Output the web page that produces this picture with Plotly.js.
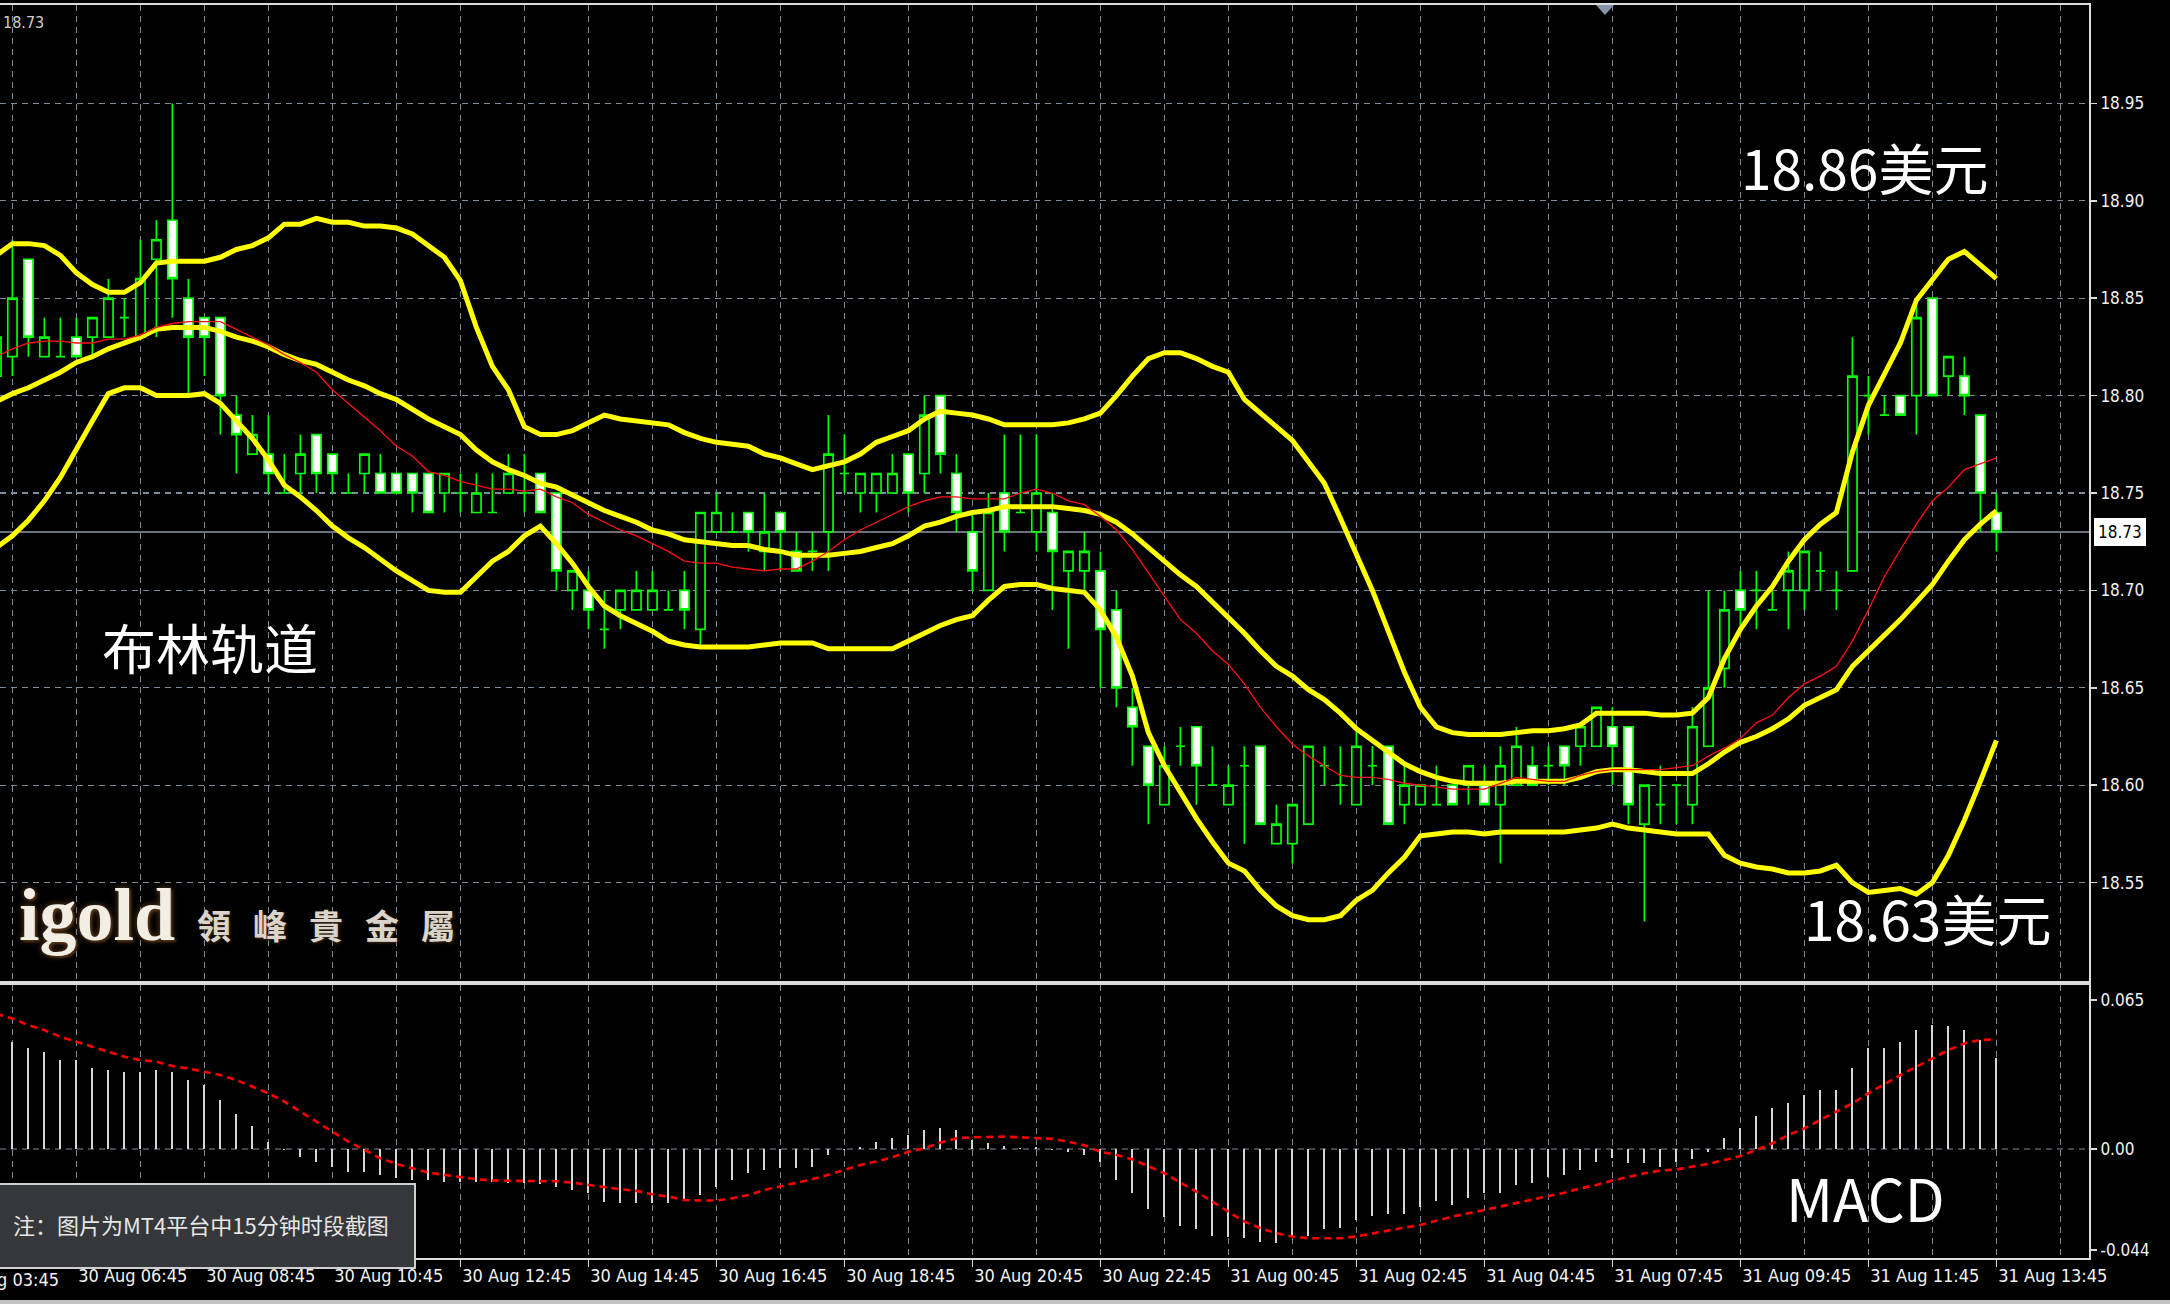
<!DOCTYPE html>
<html>
<head>
<meta charset="utf-8">
<script src="https://cdn.plot.ly/plotly-3.0.1.min.js"></script>
<style>
html,body{margin:0;padding:0;background:#000;}
#chart{width:2170px;height:1304px;}
</style>
</head>
<body>
<div id="chart"></div>
<script>
// ---------- DATA (bars -1 .. 124, 15-minute candles) ----------
const openP = [18.81,
18.82,18.87,18.82,18.82,18.83,18.83,18.83,18.84,18.83,18.87,
18.89,18.85,18.84,18.84,18.79,18.77,18.77,18.75,18.76,18.78,
18.77,18.75,18.76,18.76,18.76,18.76,18.76,18.75,18.75,18.74,
18.74,18.75,18.75,18.76,18.75,18.70,18.70,18.68,18.69,18.69,
18.69,18.69,18.70,18.68,18.73,18.73,18.74,18.72,18.74,18.72,
18.72,18.73,18.76,18.75,18.75,18.75,18.77,18.76,18.80,18.76,
18.73,18.70,18.75,18.74,18.73,18.74,18.71,18.71,18.71,18.69,
18.64,18.62,18.59,18.62,18.63,18.60,18.59,18.61,18.62,18.57,
18.57,18.58,18.61,18.60,18.59,18.61,18.62,18.59,18.59,18.59,
18.60,18.60,18.60,18.59,18.60,18.61,18.61,18.62,18.62,18.62,
18.63,18.63,18.58,18.59,18.60,18.59,18.62,18.66,18.70,18.70,
18.69,18.70,18.70,18.71,18.70,18.71,18.80,18.79,18.80,18.80,
18.85,18.81,18.81,18.79,18.74];

const highP = [18.83,
18.88,18.87,18.84,18.84,18.84,18.84,18.86,18.85,18.88,18.89,
18.95,18.86,18.84,18.84,18.80,18.79,18.79,18.77,18.78,18.78,
18.77,18.76,18.77,18.77,18.76,18.76,18.76,18.76,18.76,18.76,
18.76,18.77,18.77,18.76,18.75,18.71,18.71,18.70,18.70,18.71,
18.71,18.70,18.71,18.74,18.75,18.74,18.74,18.75,18.74,18.73,
18.73,18.79,18.78,18.76,18.76,18.77,18.77,18.80,18.80,18.77,
18.74,18.75,18.78,18.78,18.78,18.75,18.72,18.73,18.72,18.70,
18.65,18.62,18.62,18.63,18.63,18.62,18.61,18.62,18.62,18.59,
18.59,18.62,18.62,18.62,18.63,18.62,18.62,18.61,18.60,18.61,
18.60,18.61,18.61,18.62,18.63,18.62,18.62,18.62,18.63,18.64,
18.64,18.63,18.60,18.61,18.60,18.64,18.70,18.70,18.71,18.71,
18.70,18.72,18.72,18.72,18.71,18.83,18.81,18.80,18.80,18.85,
18.85,18.82,18.82,18.79,18.75];

const lowP = [18.81,
18.81,18.82,18.82,18.82,18.82,18.82,18.83,18.83,18.83,18.83,
18.84,18.80,18.81,18.78,18.76,18.77,18.75,18.75,18.75,18.75,
18.75,18.75,18.75,18.75,18.75,18.74,18.74,18.74,18.74,18.74,
18.74,18.75,18.74,18.74,18.70,18.69,18.68,18.67,18.68,18.69,
18.69,18.69,18.68,18.67,18.73,18.73,18.72,18.71,18.71,18.71,
18.71,18.71,18.75,18.74,18.74,18.75,18.74,18.75,18.76,18.73,
18.70,18.70,18.72,18.74,18.72,18.69,18.67,18.70,18.65,18.64,
18.61,18.58,18.59,18.61,18.59,18.60,18.59,18.57,18.58,18.57,
18.56,18.58,18.60,18.59,18.59,18.60,18.58,18.58,18.59,18.59,
18.59,18.59,18.59,18.56,18.60,18.60,18.60,18.60,18.61,18.62,
18.60,18.58,18.53,18.58,18.58,18.58,18.62,18.65,18.68,18.68,
18.69,18.68,18.69,18.70,18.69,18.71,18.78,18.79,18.79,18.78,
18.80,18.80,18.79,18.73,18.72];

const closeP = [18.83,
18.85,18.83,18.83,18.82,18.82,18.84,18.85,18.84,18.86,18.88,
18.86,18.83,18.83,18.80,18.78,18.78,18.76,18.75,18.77,18.76,
18.76,18.75,18.77,18.75,18.75,18.75,18.74,18.76,18.75,18.75,
18.74,18.76,18.75,18.74,18.71,18.71,18.69,18.68,18.70,18.70,
18.70,18.69,18.69,18.74,18.74,18.73,18.73,18.73,18.73,18.71,
18.72,18.77,18.76,18.76,18.76,18.76,18.75,18.79,18.77,18.74,
18.71,18.74,18.73,18.74,18.75,18.72,18.72,18.72,18.68,18.65,
18.63,18.60,18.61,18.62,18.61,18.60,18.60,18.61,18.58,18.58,
18.59,18.62,18.61,18.60,18.62,18.61,18.58,18.60,18.60,18.59,
18.59,18.61,18.59,18.61,18.62,18.60,18.61,18.61,18.63,18.64,
18.62,18.59,18.60,18.59,18.60,18.63,18.65,18.69,18.69,18.70,
18.69,18.71,18.72,18.71,18.70,18.81,18.80,18.79,18.79,18.84,
18.80,18.82,18.80,18.75,18.73];

const bbUpper = [18.872,
18.878,18.878,18.877,18.872,18.863,18.857,18.853,18.853,18.858,18.868,
18.869,18.869,18.869,18.871,18.875,18.877,18.881,18.888,18.888,18.891,
18.889,18.889,18.887,18.887,18.886,18.883,18.877,18.871,18.859,18.835,
18.815,18.803,18.784,18.780,18.780,18.782,18.786,18.790,18.788,18.787,
18.786,18.785,18.781,18.778,18.776,18.775,18.774,18.770,18.768,18.765,
18.762,18.764,18.766,18.770,18.776,18.779,18.782,18.788,18.792,18.791,
18.790,18.788,18.785,18.785,18.785,18.785,18.786,18.788,18.791,18.800,
18.810,18.819,18.822,18.822,18.819,18.815,18.812,18.798,18.791,18.784,
18.777,18.766,18.755,18.737,18.718,18.700,18.679,18.658,18.640,18.630,
18.627,18.626,18.626,18.626,18.627,18.628,18.628,18.629,18.631,18.637,
18.637,18.637,18.637,18.636,18.636,18.637,18.645,18.665,18.680,18.692,
18.702,18.715,18.726,18.734,18.740,18.771,18.795,18.811,18.827,18.849,
18.860,18.870,18.874,18.867,18.860];

const bbMiddle = [18.797,
18.801,18.804,18.808,18.812,18.817,18.820,18.824,18.827,18.830,18.834,
18.835,18.835,18.835,18.833,18.830,18.828,18.825,18.821,18.818,18.816,
18.812,18.808,18.805,18.801,18.798,18.793,18.788,18.784,18.780,18.772,
18.766,18.762,18.759,18.755,18.753,18.749,18.745,18.741,18.738,18.735,
18.731,18.729,18.726,18.725,18.724,18.723,18.723,18.721,18.720,18.718,
18.718,18.718,18.719,18.720,18.722,18.724,18.728,18.733,18.735,18.738,
18.740,18.741,18.743,18.743,18.743,18.743,18.742,18.741,18.739,18.735,
18.729,18.722,18.715,18.708,18.702,18.694,18.686,18.678,18.669,18.661,
18.656,18.649,18.644,18.637,18.629,18.623,18.617,18.611,18.607,18.604,
18.602,18.601,18.601,18.601,18.602,18.602,18.602,18.602,18.604,18.607,
18.608,18.608,18.607,18.606,18.606,18.606,18.611,18.617,18.622,18.625,
18.629,18.634,18.641,18.645,18.649,18.661,18.669,18.677,18.685,18.694,
18.703,18.715,18.726,18.734,18.741];

const bbLower = [18.722,
18.728,18.736,18.746,18.758,18.773,18.787,18.801,18.804,18.804,18.800,
18.800,18.800,18.801,18.796,18.787,18.778,18.767,18.754,18.748,18.741,
18.733,18.727,18.722,18.716,18.710,18.705,18.700,18.699,18.699,18.707,
18.715,18.720,18.728,18.733,18.724,18.714,18.702,18.692,18.687,18.683,
18.679,18.674,18.672,18.671,18.671,18.671,18.671,18.672,18.673,18.673,
18.673,18.670,18.670,18.670,18.670,18.670,18.674,18.678,18.682,18.685,
18.687,18.695,18.702,18.703,18.703,18.701,18.700,18.699,18.690,18.676,
18.656,18.627,18.610,18.596,18.583,18.571,18.560,18.556,18.546,18.538,
18.533,18.531,18.531,18.533,18.541,18.546,18.555,18.563,18.574,18.575,
18.576,18.576,18.575,18.576,18.576,18.576,18.576,18.576,18.577,18.578,
18.580,18.578,18.577,18.576,18.575,18.575,18.575,18.564,18.560,18.558,
18.557,18.555,18.555,18.556,18.559,18.550,18.545,18.546,18.547,18.544,
18.550,18.564,18.582,18.602,18.623];

const maRed = [18.820,
18.824,18.827,18.828,18.828,18.827,18.827,18.829,18.829,18.831,18.835,
18.837,18.838,18.838,18.838,18.834,18.830,18.826,18.821,18.817,18.812,
18.803,18.796,18.789,18.782,18.774,18.769,18.761,18.759,18.756,18.754,
18.752,18.752,18.751,18.752,18.748,18.745,18.739,18.735,18.731,18.728,
18.724,18.720,18.715,18.714,18.714,18.712,18.711,18.710,18.711,18.711,
18.715,18.720,18.726,18.731,18.735,18.739,18.743,18.746,18.748,18.748,
18.747,18.747,18.747,18.750,18.752,18.750,18.746,18.744,18.738,18.731,
18.721,18.709,18.697,18.685,18.678,18.669,18.662,18.652,18.640,18.630,
18.621,18.615,18.610,18.605,18.604,18.604,18.603,18.601,18.600,18.599,
18.598,18.598,18.598,18.601,18.604,18.603,18.602,18.602,18.605,18.607,
18.608,18.608,18.608,18.608,18.609,18.610,18.615,18.619,18.624,18.632,
18.636,18.645,18.652,18.656,18.661,18.674,18.690,18.707,18.721,18.734,
18.746,18.753,18.762,18.765,18.768];

const macdHist = [0.0480,
0.0468,0.0439,0.0422,0.0388,0.0388,0.0352,0.0345,0.0334,0.0334,0.0345,
0.0337,0.0301,0.0279,0.0214,0.0153,0.0102,0.0032,-0.0005,-0.0033,-0.0055,
-0.0077,-0.0099,-0.0099,-0.0113,-0.0128,-0.0135,-0.0135,-0.0143,-0.0143,-0.0143,
-0.0143,-0.0150,-0.0150,-0.0153,-0.0164,-0.0179,-0.0193,-0.0230,-0.0237,-0.0237,
-0.0237,-0.0237,-0.0223,-0.0201,-0.0164,-0.0135,-0.0106,-0.0092,-0.0084,-0.0084,
-0.0077,-0.0026,-0.0004,0.0010,0.0032,0.0047,0.0061,0.0083,0.0093,0.0083,
0.0039,0.0025,0.0015,0.0003,0.0007,-0.0004,-0.0012,-0.0026,-0.0055,-0.0135,
-0.0193,-0.0263,-0.0295,-0.0336,-0.0350,-0.0380,-0.0385,-0.0390,-0.0404,-0.0412,
-0.0382,-0.0382,-0.0350,-0.0346,-0.0310,-0.0292,-0.0284,-0.0284,-0.0252,-0.0225,
-0.0244,-0.0215,-0.0193,-0.0193,-0.0157,-0.0150,-0.0121,-0.0113,-0.0092,-0.0055,
-0.0041,-0.0063,-0.0063,-0.0077,-0.0055,-0.0045,-0.0012,0.0047,0.0090,0.0144,
0.0177,0.0202,0.0236,0.0257,0.0257,0.0352,0.0439,0.0439,0.0468,0.0519,
0.0541,0.0537,0.0519,0.0476,0.0396];

const macdSignal = [0.0590,
0.0570,0.0541,0.0519,0.0490,0.0468,0.0446,0.0425,0.0403,0.0388,0.0381,
0.0362,0.0352,0.0337,0.0323,0.0301,0.0272,0.0243,0.0207,0.0163,0.0119,
0.0076,0.0032,-0.0004,-0.0041,-0.0065,-0.0084,-0.0103,-0.0113,-0.0124,-0.0132,
-0.0138,-0.0138,-0.0138,-0.0138,-0.0141,-0.0147,-0.0157,-0.0164,-0.0176,-0.0183,
-0.0198,-0.0208,-0.0223,-0.0225,-0.0225,-0.0215,-0.0201,-0.0179,-0.0164,-0.0150,
-0.0132,-0.0113,-0.0092,-0.0070,-0.0055,-0.0036,-0.0012,0.0003,0.0028,0.0047,
0.0051,0.0054,0.0054,0.0051,0.0047,0.0044,0.0032,0.0016,-0.0012,-0.0026,
-0.0045,-0.0074,-0.0106,-0.0147,-0.0186,-0.0230,-0.0273,-0.0317,-0.0346,-0.0368,
-0.0382,-0.0390,-0.0390,-0.0390,-0.0382,-0.0368,-0.0356,-0.0343,-0.0332,-0.0313,
-0.0295,-0.0281,-0.0266,-0.0252,-0.0237,-0.0220,-0.0205,-0.0191,-0.0172,-0.0157,
-0.0138,-0.0121,-0.0106,-0.0095,-0.0089,-0.0077,-0.0065,-0.0048,-0.0031,-0.0004,
0.0025,0.0061,0.0090,0.0127,0.0163,0.0199,0.0243,0.0284,0.0323,0.0359,
0.0396,0.0432,0.0461,0.0476,0.0478];

const timeTickBars = [4,12,20,28,36,44,52,60,68,76,84,92,100,108,116,124];
const timeTickLabels = ['30 Aug 06:45','30 Aug 08:45','30 Aug 10:45','30 Aug 12:45',
  '30 Aug 14:45','30 Aug 16:45','30 Aug 18:45','30 Aug 20:45','30 Aug 22:45',
  '31 Aug 00:45','31 Aug 02:45','31 Aug 04:45','31 Aug 07:45','31 Aug 09:45',
  '31 Aug 11:45','31 Aug 13:45'];
const hiddenTickBar = -4;
const hiddenTickLabel = '30 Aug 03:45';

const priceTicks = [18.55,18.60,18.65,18.70,18.75,18.80,18.85,18.90,18.95];
const priceTickLabels = ['18.55','18.60','18.65','18.70','18.75','18.80','18.85','18.90','18.95'];
const macdTicks = [0.065, 0, -0.044];
const macdTickLabels = ['0.065','0.00','-0.044'];
const currentPrice = 18.73;
const currentPriceLabel = '18.73';
const firstBar = -1;

// ---------- LAYOUT HELPERS ----------
const W = 2170, H = 1304;
const M = {l:0, r:81, t:5, b:46};
const PW = W - M.l - M.r;        // 2089
const PH = H - M.t - M.b;        // 1253
const barPx = 16;
const xMin = -0.775, xMax = xMin + PW / barPx;
const px = X => (X - M.l) / PW;
const py = Y => (H - M.b - Y) / PH;

const bars = openP.map((_, i) => firstBar + i);

const gridColor = '#7e8b9a';
const gridDash = '6px,5px';
const frameColor = '#dcdcdc';
const axisFamily = 'DejaVu Sans Condensed, Liberation Sans Narrow, Arial Narrow, sans-serif';
const axisFont = {family:axisFamily, size:17, color:'#f2f2f2'};
const timeFont = {family:axisFamily, size:18, color:'#f2f2f2'};
const cjk = 'Noto Sans CJK SC, Noto Sans, sans-serif';

const traces = [
  {type:'candlestick', x:bars, open:openP, high:highP, low:lowP, close:closeP,
   xaxis:'x', yaxis:'y', whiskerwidth:0, hoverinfo:'skip',
   increasing:{line:{color:'#00ff00', width:1.7}, fillcolor:'#000000'},
   decreasing:{line:{color:'#00ff00', width:1.7}, fillcolor:'#ffffff'}},
  {type:'scatter', mode:'lines', x:bars, y:bbUpper, xaxis:'x', yaxis:'y', hoverinfo:'skip',
   line:{color:'#ffff00', width:5}},
  {type:'scatter', mode:'lines', x:bars, y:bbMiddle, xaxis:'x', yaxis:'y', hoverinfo:'skip',
   line:{color:'#ffff00', width:5}},
  {type:'scatter', mode:'lines', x:bars, y:bbLower, xaxis:'x', yaxis:'y', hoverinfo:'skip',
   line:{color:'#ffff00', width:5}},
  {type:'scatter', mode:'lines', x:bars, y:maRed, xaxis:'x', yaxis:'y', hoverinfo:'skip',
   line:{color:'#ff1010', width:1.3}},
  {type:'bar', x:bars, y:macdHist, xaxis:'x2', yaxis:'y2', hoverinfo:'skip', width:0.13,
   marker:{color:'#d6d6d6', line:{width:0}}},
  {type:'scatter', mode:'lines', x:bars, y:macdSignal, xaxis:'x2', yaxis:'y2', hoverinfo:'skip',
   line:{color:'#ff0000', width:2.6, dash:'7px,5px'}}
];

const mainBottom = py(981), macdTopP = py(985);

const annotations = [
  {xref:'paper', yref:'paper', x:px(1864), y:py(166), text:'18.86美元', showarrow:false,
   xanchor:'center', yanchor:'middle', font:{family:cjk, size:55, color:'#ffffff'}},
  {xref:'paper', yref:'paper', x:px(1927), y:py(917), text:'18.63美元', showarrow:false,
   xanchor:'center', yanchor:'middle', font:{family:cjk, size:55, color:'#ffffff'}},
  {xref:'paper', yref:'paper', x:px(210), y:py(646), text:'布林轨道', showarrow:false,
   xanchor:'center', yanchor:'middle', font:{family:cjk, size:54, color:'#ffffff'}},
  {xref:'paper', yref:'paper', x:px(1865), y:py(1197), text:'MACD', showarrow:false,
   xanchor:'center', yanchor:'middle', font:{family:cjk, size:58, color:'#ffffff'}},
  {xref:'paper', yref:'paper', x:px(1), y:py(22), text:currentPriceLabel, showarrow:false,
   xanchor:'left', yanchor:'middle', font:{family:axisFamily, size:16, color:'#cfcfcf'}},
  {xref:'paper', yref:'y', x:px(2094), y:currentPrice, text:currentPriceLabel, showarrow:false,
   xanchor:'left', yanchor:'middle', bgcolor:'#ffffff', bordercolor:'#ffffff', borderpad:3,
   font:{family:axisFamily, size:17, color:'#000000'}},
  {xref:'paper', yref:'paper', x:px(201), y:py(1224), text:'注：图片为MT4平台中15分钟时段截图', showarrow:false,
   xanchor:'center', yanchor:'middle', font:{family:cjk, size:22, color:'#e6e6e6'}},
  {xref:'paper', yref:'paper', x:px(17), y:py(915), text:'igold', showarrow:false,
   xanchor:'left', yanchor:'middle',
   font:{family:'Liberation Serif, DejaVu Serif, serif', size:74, weight:'bold', color:'#f3eee4',
         shadow:'0px 0px 6px #6b4522, 2px 2px 2px #3a2410'}},
  {xref:'paper', yref:'paper', x:(hiddenTickBar - xMin) / (xMax - xMin), y:py(1279), text:hiddenTickLabel,
   showarrow:false, xanchor:'left', yanchor:'middle', font:timeFont}
];
const brandChars = ['領','峰','貴','金','屬'];
brandChars.forEach((c, i) => {
  annotations.push({xref:'paper', yref:'paper', x:px(214 + 56 * i), y:py(924), text:c, showarrow:false,
    xanchor:'center', yanchor:'middle',
    font:{family:'Noto Sans CJK TC, Noto Sans CJK SC, sans-serif', size:34, weight:'bold', color:'#d9d5cd',
          shadow:'1px 1px 3px #4a3018'}});
});

const shapes = [
  {type:'line', xref:'paper', yref:'y', x0:0, x1:1, y0:currentPrice, y1:currentPrice,
   line:{color:'#8d99a8', width:1.5}, layer:'between'},
  {type:'line', xref:'paper', yref:'y2', x0:0, x1:1, y0:0, y1:0,
   line:{color:gridColor, width:1.2, dash:gridDash}, layer:'between'},
  {type:'rect', xref:'paper', yref:'paper', x0:px(-2), x1:px(415), y0:py(1268), y1:py(1184),
   fillcolor:'#35373b', line:{color:'#cfcfcf', width:2}, layer:'above'},
  {type:'path', xref:'paper', yref:'paper',
   path:`M ${px(1596)},${py(5)} L ${px(1614)},${py(5)} L ${px(1605)},${py(15)} Z`,
   fillcolor:'#8594aa', line:{width:0}, layer:'above'},
  {type:'rect', xref:'paper', yref:'paper', x0:px(0), x1:px(W), y0:py(1304), y1:py(1300),
   fillcolor:'#c4c4c4', line:{width:0}, layer:'above'}
];

const layout = {
  width:W, height:H, margin:{l:M.l, r:M.r, t:M.t, b:M.b, pad:0},
  paper_bgcolor:'#000000', plot_bgcolor:'#000000',
  showlegend:false, hovermode:false, dragmode:false,
  boxgap:0.42, boxgroupgap:0,
  bargap:0,
  xaxis:{domain:[0,1], anchor:'y', range:[xMin,xMax], tickmode:'linear', tick0:0, dtick:4,
    showticklabels:false, ticks:'', showgrid:true, gridcolor:gridColor, griddash:gridDash, gridwidth:1.2,
    zeroline:false, showline:true, mirror:true, linecolor:frameColor, linewidth:2,
    rangeslider:{visible:false}, fixedrange:true},
  yaxis:{domain:[mainBottom,1], anchor:'x', side:'right', range:[18.4995,19.0005],
    tickmode:'array', tickvals:priceTicks, ticktext:priceTickLabels,
    ticks:'outside', ticklen:6, tickcolor:frameColor, tickwidth:1.5, tickfont:axisFont,
    ticklabeloverflow:'allow',
    showgrid:true, gridcolor:gridColor, griddash:gridDash, gridwidth:1.2,
    zeroline:false, showline:true, linecolor:frameColor, linewidth:2, fixedrange:true},
  xaxis2:{domain:[0,1], anchor:'y2', range:[xMin,xMax], tickmode:'array',
    tickvals:timeTickBars, ticktext:timeTickLabels,
    ticks:'outside', ticklen:7, tickcolor:frameColor, tickwidth:1.5,
    ticklabelposition:'outside right', ticklabeloverflow:'allow', tickfont:timeFont,
    showgrid:true, gridcolor:gridColor, griddash:gridDash, gridwidth:1.2,
    minor:{tickmode:'linear', tick0:0, dtick:4, showgrid:true, gridcolor:gridColor,
           griddash:gridDash, gridwidth:1.2, ticks:''},
    zeroline:false, showline:true, mirror:true, linecolor:frameColor, linewidth:2, fixedrange:true},
  yaxis2:{domain:[0,macdTopP], anchor:'x2', side:'right', range:[-0.0476,0.0716],
    tickmode:'array', tickvals:macdTicks, ticktext:macdTickLabels,
    ticks:'outside', ticklen:6, tickcolor:frameColor, tickwidth:1.5, tickfont:axisFont,
    ticklabeloverflow:'allow',
    showgrid:false, zeroline:false, showline:true, linecolor:frameColor, linewidth:2, fixedrange:true},
  annotations:annotations,
  shapes:shapes
};

Plotly.newPlot('chart', traces, layout, {staticPlot:true, displayModeBar:false});
</script>
</body>
</html>
